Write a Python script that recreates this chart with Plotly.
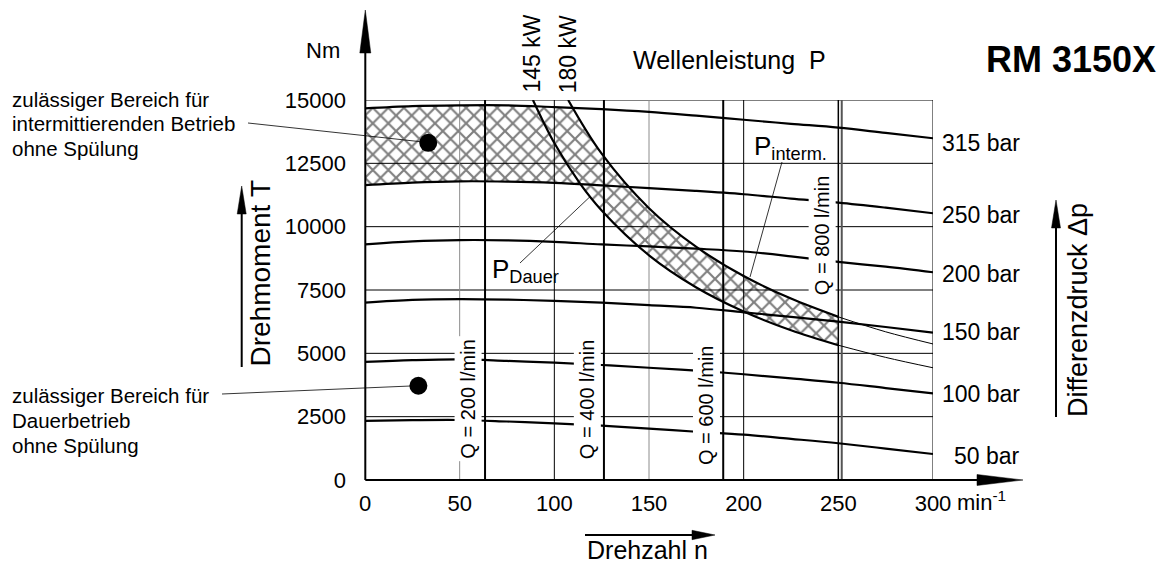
import numpy as np
import plotly.graph_objects as go

# ---------------- data ----------------
n_pts = [0, 25, 50, 75, 100, 125, 150, 175, 200, 225, 250, 275, 300]
p315 = [14670, 14760, 14790, 14790, 14720, 14640, 14530, 14380, 14220, 14060, 13910, 13700, 13490]
p250 = [11640, 11740, 11790, 11780, 11730, 11630, 11520, 11410, 11280, 11110, 10950, 10750, 10530]
p200 = [9300, 9420, 9470, 9460, 9400, 9300, 9220, 9130, 9020, 8830, 8610, 8420, 8200]
p150 = [7000, 7110, 7140, 7120, 7070, 7000, 6900, 6800, 6620, 6440, 6250, 6040, 5815]
p100 = [4660, 4730, 4760, 4700, 4630, 4540, 4430, 4315, 4175, 4010, 3840, 3630, 3420]
p50 = [2330, 2360, 2368, 2310, 2238, 2145, 2030, 1905, 1790, 1625, 1450, 1240, 1026]
pressure_labels = ["315 bar", "250 bar", "200 bar", "150 bar", "100 bar", "50 bar"]

n_145 = [88.7, 100, 113.6, 125, 150, 175, 200, 225, 250, 275, 300]
t_145 = [15000, 13300, 11700, 10640, 8870, 7600, 6650, 5910, 5320, 4840, 4430]
n_180 = [107.3, 125, 150, 175, 200, 225, 250, 275, 300]
t_180 = [15000, 12880, 10730, 9200, 8050, 7160, 6440, 5850, 5370]

q_n = [63.4, 126.2, 189.2, 251.8]
q_labels = ["Q = 200 l/min", "Q = 400 l/min", "Q = 600 l/min", "Q = 800 l/min"]

x_ticks = [0, 50, 100, 150, 200, 250, 300]
x_ticktext = ["0", "50", "100", "150", "200", "250", "300"]
y_ticks = [0, 2500, 5000, 7500, 10000, 12500, 15000]

dot_n = [33.4, 28.2]
dot_t = [13310, 3720]

n_limit = 250  # end of hatched power band

# ---------------- helpers ----------------
FONT = "Liberation Sans, Arial, sans-serif"
OFF = 8  # page body margin
W, H = 1168 - OFF, 566 - OFF
ML, MR, MT, MB = 365 - OFF, 235, 100 - OFF, 86
PW, PH = W - ML - MR, H - MT - MB


def px(x):
    return (x - OFF - ML) / PW


def py(y):
    return (H - MB - (y - OFF)) / PH


def loglog(nq, nn, tt):
    out = np.full(nq.shape, np.inf)
    m = nq >= nn[0]
    out[m] = np.exp(np.interp(np.log(nq[m]), np.log(nn), np.log(tt)))
    return out


fig = go.Figure()

# hatched region
ng = np.linspace(0, n_limit, 501)
upper = np.minimum(np.interp(ng, n_pts, p315), loglog(ng, np.array(n_180), np.array(t_180)))
lower = np.minimum(np.interp(ng, n_pts, p250), loglog(ng, np.array(n_145), np.array(t_145)))
fig.add_trace(go.Scatter(
    x=np.concatenate([ng, ng[::-1]]), y=np.concatenate([upper, lower[::-1]]),
    mode="lines", fill="toself", line=dict(width=0), fillcolor="rgba(0,0,0,0)",
    fillpattern=dict(shape="x", fgcolor="black", bgcolor="white", size=11, solidity=0.35),
    hoverinfo="skip"))

# grid lines
gx, gy = [], []
for v in y_ticks[1:]:
    gx += [0, 300, None]
    gy += [v, v, None]
fig.add_trace(go.Scatter(x=gx, y=gy, mode="lines", line=dict(color="black", width=1), hoverinfo="skip"))
for xv in x_ticks[1:]:
    col = "#8c8c8c" if xv in (50, 150) else "black"
    wid = 1.5 if xv == 250 else 1
    fig.add_trace(go.Scatter(x=[xv, xv], y=[0, 15000], mode="lines",
                             line=dict(color=col, width=wid), hoverinfo="skip"))

# flow lines
for i, qv in enumerate(q_n):
    col = "#555555" if i == 3 else "black"
    fig.add_trace(go.Scatter(x=[qv, qv], y=[0, 15000], mode="lines",
                             line=dict(color=col, width=2), hoverinfo="skip"))

# pressure curves
for arr in [p315, p250, p200, p150, p100, p50]:
    fig.add_trace(go.Scatter(x=n_pts, y=arr, mode="lines", line=dict(color="black", width=2.2, shape="spline"),
                             hoverinfo="skip"))

# power curves
for nn, tt in [(n_145, t_145), (n_180, t_180)]:
    nt = [a for a in nn if a <= n_limit]
    tk = [b for a, b in zip(nn, tt) if a <= n_limit]
    nt2 = [a for a in nn if a >= n_limit]
    tk2 = [b for a, b in zip(nn, tt) if a >= n_limit]
    fig.add_trace(go.Scatter(x=nt, y=tk, mode="lines", line=dict(color="black", width=2.2, shape="spline"),
                             hoverinfo="skip"))
    fig.add_trace(go.Scatter(x=nt2, y=tk2, mode="lines", line=dict(color="black", width=1, shape="spline"),
                             hoverinfo="skip"))

# dots
fig.add_trace(go.Scatter(x=dot_n, y=dot_t, mode="markers", marker=dict(color="black", size=18),
                         hoverinfo="skip"))

# ---------------- shapes (axes arrows, leaders) ----------------
shapes = []


def seg(x0, y0, x1, y1, w=1.0):
    shapes.append(dict(type="line", xref="paper", yref="paper", x0=px(x0), y0=py(y0), x1=px(x1), y1=py(y1),
                       line=dict(color="black", width=w), layer="above"))


def tri(pts):
    path = "M " + " L ".join(f"{px(a):.5f},{py(b):.5f}" for a, b in pts) + " Z"
    shapes.append(dict(type="path", xref="paper", yref="paper", path=path, fillcolor="black",
                       line=dict(color="black", width=0.5), layer="above"))


# y axis with arrow
seg(365.3, 480, 365.3, 50, 2)
tri([(359.8, 53), (370.8, 53), (365.3, 10)])
# x axis with arrow
seg(365.3, 480, 980, 480, 2)
tri([(977, 474.5), (977, 485.5), (1023, 480)])
# Drehmoment arrow
seg(241.7, 367, 241.7, 210, 2)
tri([(237.2, 214), (246.2, 214), (241.7, 186)])
# Drehzahl arrow
seg(585, 535, 695, 535, 2)
tri([(692, 530.3), (692, 539.7), (715, 535)])
# Differenzdruck arrow
seg(1056, 417, 1056, 225, 2)
tri([(1051.5, 228), (1060.5, 228), (1056, 200)])
# leader lines
seg(248, 123, 428, 142.5, 0.8)
seg(222, 394, 418, 385.7, 0.8)
seg(520, 263, 590, 196.7, 0.8)
seg(782, 162, 750, 277, 0.8)

# ---------------- annotations ----------------
ann = []


def txt(x, y, s, size, xanchor="center", yanchor="middle", angle=0, bold=False, **kw):
    ann.append(dict(x=px(x), y=py(y), xref="paper", yref="paper", text=(f"<b>{s}</b>" if bold else s),
                    showarrow=False, xanchor=xanchor, yanchor=yanchor, textangle=angle,
                    font=dict(family=FONT, size=size, color="black"), **kw))


txt(342, 51, "Nm", 22, xanchor="right")
txt(729, 60, "Wellenleistung\u00a0\u00a0P", 25)
txt(1071, 60, "RM 3150X", 36, bold=True)
txt(531.5, 54, "145 kW", 23, angle=-90)
txt(568.3, 54, "180 kW", 23, angle=-90)
txt(260, 273.5, "Drehmoment\u00a0T", 28, angle=-90)
txt(1078, 310, "Differenzdruck\u00a0Δp", 27, angle=-90)
txt(585, 550, "Drehzahl\u00a0n", 25, xanchor="left")
txt(955, 501, "min<sup>-1</sup>", 22, xanchor="left")

left1 = ["zulässiger Bereich für", "intermittierenden Betrieb", "ohne Spülung"]
left2 = ["zulässiger Bereich für", "Dauerbetrieb", "ohne Spülung"]
for i, s in enumerate(left1):
    txt(10, 99 + 24.7 * i, s, 20.5, xanchor="left")
for i, s in enumerate(left2):
    txt(10, 395 + 25 * i, s, 20.5, xanchor="left")

label_y = [142.7, 214.5, 274, 332, 393.7, 456]
for s, yy in zip(pressure_labels, label_y):
    txt(1022, yy, s, 23, xanchor="right")

txt(490, 270, "P<sub>Dauer</sub>", 26, xanchor="left")
txt(751.7, 148, "P<sub>interm.</sub>", 26, xanchor="left")

q_pos = [(54.6, 3225), (117.4, 3200), (180.5, 2950), (241.2, 9650)]
for s, (qx, qy) in zip(q_labels, q_pos):
    ann.append(dict(x=qx, y=qy, xref="x", yref="y", text=s, showarrow=False, textangle=-90,
                    bgcolor="white", borderpad=2, font=dict(family=FONT, size=20, color="black")))

fig.update_layout(
    width=W, height=H, autosize=False, margin=dict(l=ML, r=MR, t=MT, b=MB),
    paper_bgcolor="white", plot_bgcolor="white", showlegend=False,
    font=dict(family=FONT, color="black"), shapes=shapes, annotations=ann,
)
fig.update_xaxes(range=[0, 300], tickvals=x_ticks, ticktext=x_ticktext, showgrid=False, zeroline=False,
                 showline=False, ticks="", tickfont=dict(family=FONT, size=22, color="black"),
                 ticklabelstandoff=8, fixedrange=True)
fig.update_yaxes(range=[0, 15000], tickvals=y_ticks, ticktext=[str(v) for v in y_ticks], showgrid=False,
                 zeroline=False, showline=False, ticks="", tickfont=dict(family=FONT, size=22, color="black"),
                 ticklabelstandoff=18, fixedrange=True)

fig.write_html("out.html")
